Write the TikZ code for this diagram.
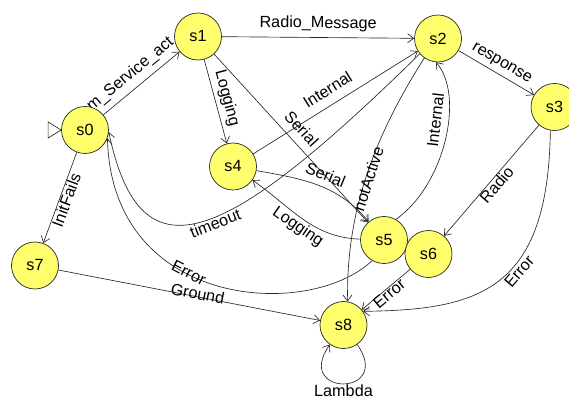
\documentclass[tikz,border=0pt]{standalone}
\usepackage{fontspec}
\setsansfont{Liberation Sans}
\usetikzlibrary{arrows.meta,backgrounds}
\definecolor{stfill}{HTML}{FFFF6E}
\definecolor{ln}{HTML}{262626}
\tikzset{
  state/.style={circle,draw=ln,line width=0.7pt,fill=stfill,minimum size=47pt,inner sep=0pt},
  ar/.style={-{Straight Barb[length=6pt,width=9pt]},draw=ln,line width=0.65pt},
  lbl/.style={sloped,inner sep=1pt,text height=0.72em,text depth=0.22em},
}
\begin{document}
\begin{tikzpicture}[x=1pt,y=1pt,font=\sffamily\fontsize{16.2}{19}\selectfont]
\useasboundingbox (0,0) rectangle (569,401);
\node[state] (s0) at (85,271) {s0};
\node[state] (s1) at (198,364.5) {s1};
\node[state] (s2) at (438,362.5) {s2};
\node[state] (s3) at (554.5,294) {s3};
\node[state] (s4) at (233,234.5) {s4};
\node[state] (s5) at (384,161) {s5};
\node[state] (s6) at (428.5,147) {s6};
\node[state] (s7) at (35,135.5) {s7};
\node[state] (s8) at (343.5,76) {s8};
\begin{scope}[on background layer]
% start marker
\draw[ln,line width=0.65pt] (s0.west) -- ++(-13,8) -- ++(0,-16) -- cycle;
\draw[ar] (s0) -- node[lbl,above=6pt,pos=0.47] {m\_Service\_act} (s1);
\draw[ar] (s1) -- node[lbl,above=6pt] {Radio\_Message} (s2);
\draw[ar] (s1) -- node[lbl,above=4pt] {Logging} (s4);
\draw[ar] (s1) -- node[lbl,above=5pt] {Serial} (s5);
\draw[ar] (s4) to[out=-10,in=130] node[lbl,above=3pt,pos=0.52] {Serial} (s5);
\draw[ar] (s5) to[out=178,in=-35] node[lbl,below=5pt] {Logging} (s4);
\draw[ar] (s4) -- node[lbl,above=6pt] {Internal} (s2);
\draw[ar] (s2) -- node[lbl,above=4pt] {response} (s3);
\draw[ar] (s3) -- node[lbl,below=4pt] {Radio} (s6);
\draw[ar] (s6) -- node[lbl,below=2pt] {Error} (s8);
\draw[ar] (s3.-100) .. controls (548,111) and (480,91) .. node[lbl,below=4pt,pos=0.42] {Error} (s8.35);
\draw[ar] (s2.235) .. controls (372,261) and (346,186) .. node[lbl,below=0pt] {notActive} (s8.80);
\draw[ar] (s5.60) .. controls (445,216) and (465,306) .. node[lbl,above=4pt,pos=0.6] {Internal} (s2.-95);
\draw[ar] (s2.220) .. controls (220,151) and (140,121) .. node[lbl,below=3pt,pos=0.46] {timeout} (s0.-5);
\draw[ar] (s5.240) .. controls (310,81) and (112,91) .. node[lbl,below=-5pt,pos=0.59] {Error} (s0.-20);
\draw[ar] (s7) -- node[lbl,pos=0.53] {Ground} (s8);
\draw[ar] (s0) -- node[lbl,below=4pt] {InitFails} (s7);
\draw[ar] (s8) to[out=-55,in=-125,looseness=6] node[below,inner sep=1pt] {Lambda} (s8);
\end{scope}
\end{tikzpicture}
\end{document}
